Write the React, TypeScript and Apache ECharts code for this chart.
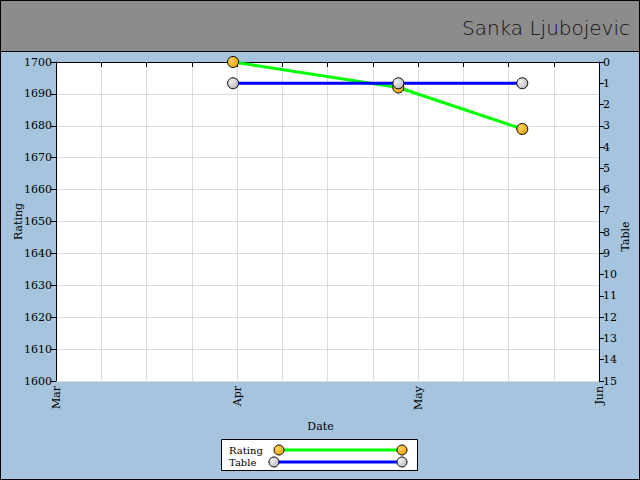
import React, { useEffect, useRef } from "react";
import * as echarts from "echarts";

const titleText = "Sanka Ljubojevic";
const dates = ["2009-03-31", "2009-04-28", "2009-05-19"];
const ratingValues = [1700, 1692, 1679];
const tableValues = [1, 1, 1];
const axisStart = "2009-03-01";
const axisEnd = "2009-06-01";
const xTickLabels = ["Mar", "", "", "", "Apr", "", "", "", "May", "", "", "", "Jun"];

const FONT = "DejaVu Serif";

function ts(s: string): number {
  const [y, m, d] = s.split("-").map(Number);
  return new Date(y, m - 1, d).getTime();
}

export default function App() {
  const ref = useRef<HTMLDivElement>(null);
  useEffect(() => {
    if (!ref.current) return;
    const chart = echarts.init(ref.current, null, { renderer: "svg" });
    const ratingData = dates.map((d, i) => [ts(d), ratingValues[i]]);
    const tableData = dates.map((d, i) => [ts(d), tableValues[i]]);
    const orange = new echarts.graphic.RadialGradient(0.35, 0.35, 0.8, [
      { offset: 0, color: "#ffd060" },
      { offset: 1, color: "#f0a000" },
    ]);
    const grey = new echarts.graphic.RadialGradient(0.35, 0.35, 0.8, [
      { offset: 0, color: "#f0f0f0" },
      { offset: 1, color: "#b4b4b4" },
    ]);
    const txt = { fontFamily: FONT, fontSize: 11, color: "#000" };
    chart.setOption({
      animation: false,
      backgroundColor: "#a6c4dd",
      graphic: [
        { type: "rect", shape: { x: 0, y: 0, width: 640, height: 51.5 }, style: { fill: "#8c8c8c" }, z: -1 },
        { type: "line", shape: { x1: 0, y1: 51.5, x2: 640, y2: 51.5 }, style: { stroke: "#000", lineWidth: 1 } },
        { type: "rect", shape: { x: 0.5, y: 0.5, width: 639, height: 479 }, style: { fill: "none", stroke: "#000", lineWidth: 1 } },
        {
          type: "text",
          right: 10,
          top: 18,
          style: { text: titleText, fontFamily: "DejaVu Sans", fontWeight: "lighter", fontSize: 20, fill: "#111" },
        },
        { type: "rect", shape: { x: 221.5, y: 439.5, width: 196, height: 31 }, style: { fill: "#fff", stroke: "#000", lineWidth: 1 } },
        { type: "text", x: 229, y: 450, style: { text: "Rating", fontFamily: FONT, fontSize: 10, lineHeight: 11, fill: "#000", textVerticalAlign: "middle" } },
        { type: "text", x: 229, y: 462, style: { text: "Table", fontFamily: FONT, fontSize: 10, lineHeight: 11, fill: "#000", textVerticalAlign: "middle" } },
        { type: "line", shape: { x1: 279, y1: 450, x2: 402, y2: 450 }, style: { stroke: "#00ff00", lineWidth: 3 } },
        { type: "circle", shape: { cx: 279, cy: 450, r: 5 }, style: { fill: orange, stroke: "#000", lineWidth: 1 } },
        { type: "circle", shape: { cx: 402, cy: 450, r: 5 }, style: { fill: orange, stroke: "#000", lineWidth: 1 } },
        { type: "line", shape: { x1: 274, y1: 462, x2: 402, y2: 462 }, style: { stroke: "#0000ff", lineWidth: 3 } },
        { type: "circle", shape: { cx: 274, cy: 462, r: 5 }, style: { fill: grey, stroke: "#000", lineWidth: 1 } },
        { type: "circle", shape: { cx: 402, cy: 462, r: 5 }, style: { fill: grey, stroke: "#000", lineWidth: 1 } },
      ],
      grid: {
        left: 56,
        top: 62,
        width: 543,
        height: 319,
        show: true,
        backgroundColor: "#fff",
        borderWidth: 0,
        containLabel: false,
        outerBoundsMode: "none",
      },
      xAxis: [
        {
          type: "category",
          data: xTickLabels,
          boundaryGap: false,
          position: "bottom",
          name: "Date",
          nameLocation: "middle",
          nameGap: 40,
          nameMoveOverlap: false,
          nameTextStyle: { ...txt, padding: [0, 14, 0, 0] },
          axisLine: { show: true, lineStyle: { color: "#000", width: 1 } },
          axisTick: { show: true, interval: 0, length: 5, lineStyle: { color: "#000" } },
          axisLabel: { ...txt, interval: 0, rotate: 90, margin: 5, hideOverlap: false },
          splitLine: { show: true, interval: 0, lineStyle: { color: "#dcdcdc", width: 1 } },
        },
        {
          type: "time",
          min: ts(axisStart),
          max: ts(axisEnd),
          show: false,
        },
      ],
      yAxis: [
        {
          type: "value",
          min: 1600,
          max: 1700,
          interval: 10,
          position: "left",
          name: "Rating",
          nameLocation: "middle",
          nameRotate: 90,
          nameGap: 32,
          nameMoveOverlap: false,
          nameTextStyle: txt,
          axisLine: { show: true, lineStyle: { color: "#000", width: 1 } },
          axisTick: { show: true, length: 5, lineStyle: { color: "#000" } },
          axisLabel: { ...txt, margin: 4, formatter: (v: number) => String(v) },
          splitLine: { show: true, lineStyle: { color: "#dcdcdc", width: 1 } },
        },
        {
          type: "value",
          min: 0,
          max: 15,
          interval: 1,
          inverse: true,
          position: "right",
          name: "Table",
          nameLocation: "middle",
          nameRotate: 90,
          nameGap: 21,
          nameMoveOverlap: false,
          nameTextStyle: { ...txt, padding: [0, 30, 0, 0] },
          axisLine: { show: true, lineStyle: { color: "#000", width: 1 } },
          axisTick: { show: true, length: 5, lineStyle: { color: "#000" } },
          axisLabel: { ...txt, margin: 4, formatter: (v: number) => String(v) },
          splitLine: { show: false },
        },
      ],
      series: [
        {
          name: "Rating",
          type: "line",
          xAxisIndex: 1,
          yAxisIndex: 0,
          data: ratingData,
          clip: false,
          symbol: "circle",
          symbolSize: 11,
          lineStyle: { color: "#00ff00", width: 3 },
          itemStyle: { color: orange, borderColor: "#000", borderWidth: 1 },
          z: 2,
        },
        {
          name: "Table",
          type: "line",
          xAxisIndex: 1,
          yAxisIndex: 1,
          data: tableData,
          clip: false,
          symbol: "circle",
          symbolSize: 11,
          lineStyle: { color: "#0000ff", width: 3 },
          itemStyle: { color: grey, borderColor: "#000", borderWidth: 1 },
          z: 3,
        },
      ],
    });
    return () => chart.dispose();
  }, []);
  return (
    <div
      ref={ref}
      style={{ position: "fixed", left: 0, top: 0, width: 640, height: 480 }}
    />
  );
}
